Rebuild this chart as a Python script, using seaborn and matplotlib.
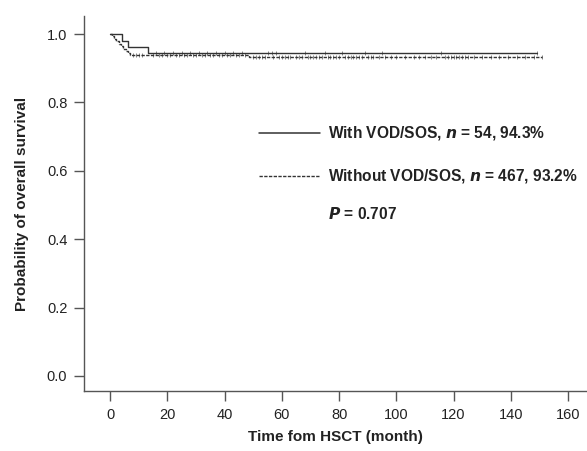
import numpy as np
import pandas as pd
import matplotlib
matplotlib.use("Agg")
import matplotlib.pyplot as plt
import seaborn as sns

# ---- data ----
groups = ["With VOD/SOS", "Without VOD/SOS"]
with_time = [0, 4.1, 6.2, 13.2, 149]
with_surv = [1.0, 0.981, 0.963, 0.944, 0.944]
without_time = [0, 0.8, 1.5, 2.2, 3.0, 3.8, 4.6, 5.4, 6.2, 7.0, 48.5, 151]
without_surv = [1.0, 0.994, 0.987, 0.980, 0.972, 0.964, 0.957, 0.950, 0.944, 0.938, 0.932, 0.932]
with_censor = [16, 19, 22, 25, 28, 31, 34, 37, 40, 43, 46, 55, 56.5, 58, 68, 75, 81, 89, 95, 115.5, 149]
without_censor = [8, 9, 10, 11, 15, 17, 18, 20, 21, 23, 24, 26, 27, 29, 30, 32, 33, 35, 36, 38,
                  39, 41, 42, 44, 45, 47, 50, 51, 52, 53, 54, 57, 59, 60, 61, 62, 63, 65, 66,
                  67, 69, 70, 71, 72, 73, 74, 76, 77, 78, 79, 80, 82, 83, 84, 85, 86, 87, 88,
                  90, 91, 92, 94, 96, 98, 100, 103, 106, 108, 110, 112, 114, 117, 118, 119,
                  120, 121, 122, 123, 124, 125, 127, 130, 133, 136, 139, 142, 145, 148, 151]
x_ticks = [0, 20, 40, 60, 80, 100, 120, 140, 160]
y_ticks = [0.0, 0.2, 0.4, 0.6, 0.8, 1.0]
legend_labels = [r"With VOD/SOS, $\boldsymbol{n}$ = 54, 94.3%",
                 r"Without VOD/SOS, $\boldsymbol{n}$ = 467, 93.2%"]


def surv_at(times, survs, t):
    idx = np.searchsorted(times, t, side="right") - 1
    return survs[max(idx, 0)]


curve_df = pd.concat([
    pd.DataFrame({"time": with_time, "surv": with_surv, "group": groups[0]}),
    pd.DataFrame({"time": without_time, "surv": without_surv, "group": groups[1]}),
], ignore_index=True)

cens_df = pd.concat([
    pd.DataFrame({"time": with_censor,
                  "surv": [surv_at(with_time, with_surv, t) for t in with_censor],
                  "group": groups[0]}),
    pd.DataFrame({"time": without_censor,
                  "surv": [surv_at(without_time, without_surv, t) for t in without_censor],
                  "group": groups[1]}),
], ignore_index=True)

sns.set_theme(style="ticks")
plt.rcParams["font.family"] = ["Liberation Sans", "DejaVu Sans"]
plt.rcParams["mathtext.fontset"] = "custom"
plt.rcParams["mathtext.it"] = "Liberation Sans:italic:bold"
plt.rcParams["mathtext.bf"] = "Liberation Sans:italic:bold"
plt.rcParams["mathtext.rm"] = "Liberation Sans:bold"

fig = plt.figure(figsize=(5.87, 4.51), dpi=100)
ax = fig.add_axes([84 / 587, 1 - 391 / 451, (587 - 84) / 587, (391 - 16) / 451])

line_color = "#333333"
text_color = "#222222"
sns.lineplot(data=curve_df, x="time", y="surv", style="group", style_order=groups,
             dashes={groups[0]: "", groups[1]: (2.4, 1.0)}, color=line_color,
             drawstyle="steps-post", linewidth=1.0, legend=False, ax=ax,
             estimator=None, sort=False)
sns.scatterplot(data=cens_df, x="time", y="surv", marker="|", s=7, linewidth=0.5,
                color="#555555", legend=False, ax=ax)

ax.set_xlim(-9.1, 166.6)
ax.set_ylim(-0.044, 1.053)
ax.set_xticks(x_ticks)
ax.set_xticklabels([str(v) for v in x_ticks])
ax.set_yticks(y_ticks)
ax.set_yticklabels([f"{v:.1f}" for v in y_ticks])

for side in ["top", "right"]:
    ax.spines[side].set_visible(False)
for side in ["left", "bottom"]:
    ax.spines[side].set_color("#555555")
    ax.spines[side].set_linewidth(1.0)
ax.tick_params(axis="both", colors="#555555", length=7.5, width=1.0,
               labelcolor=text_color, labelsize=10.5, pad=4.5)

ax.set_xlabel("Time fom HSCT (month)", fontsize=11, fontweight="bold", color=text_color, labelpad=6)
ax.set_ylabel("Probability of overall survival", fontsize=11, fontweight="bold", color=text_color, labelpad=13)

# legend-like annotations
ax.plot([52, 73.5], [0.712, 0.712], color=line_color, linewidth=1.1)
ax.plot([52, 73.5], [0.586, 0.586], color=line_color, linewidth=1.0, dashes=(2.4, 1.0))
ax.text(76.3, 0.712, legend_labels[0], fontsize=11.2, fontweight="bold", va="center", ha="left", color=text_color)
ax.text(76.3, 0.586, legend_labels[1], fontsize=11.2, fontweight="bold", va="center", ha="left", color=text_color)
ax.text(76.3, 0.475, r"$\boldsymbol{P}$ = 0.707", fontsize=11.2, fontweight="bold", va="center", ha="left", color=text_color)

fig.savefig("out.png", dpi=100)
